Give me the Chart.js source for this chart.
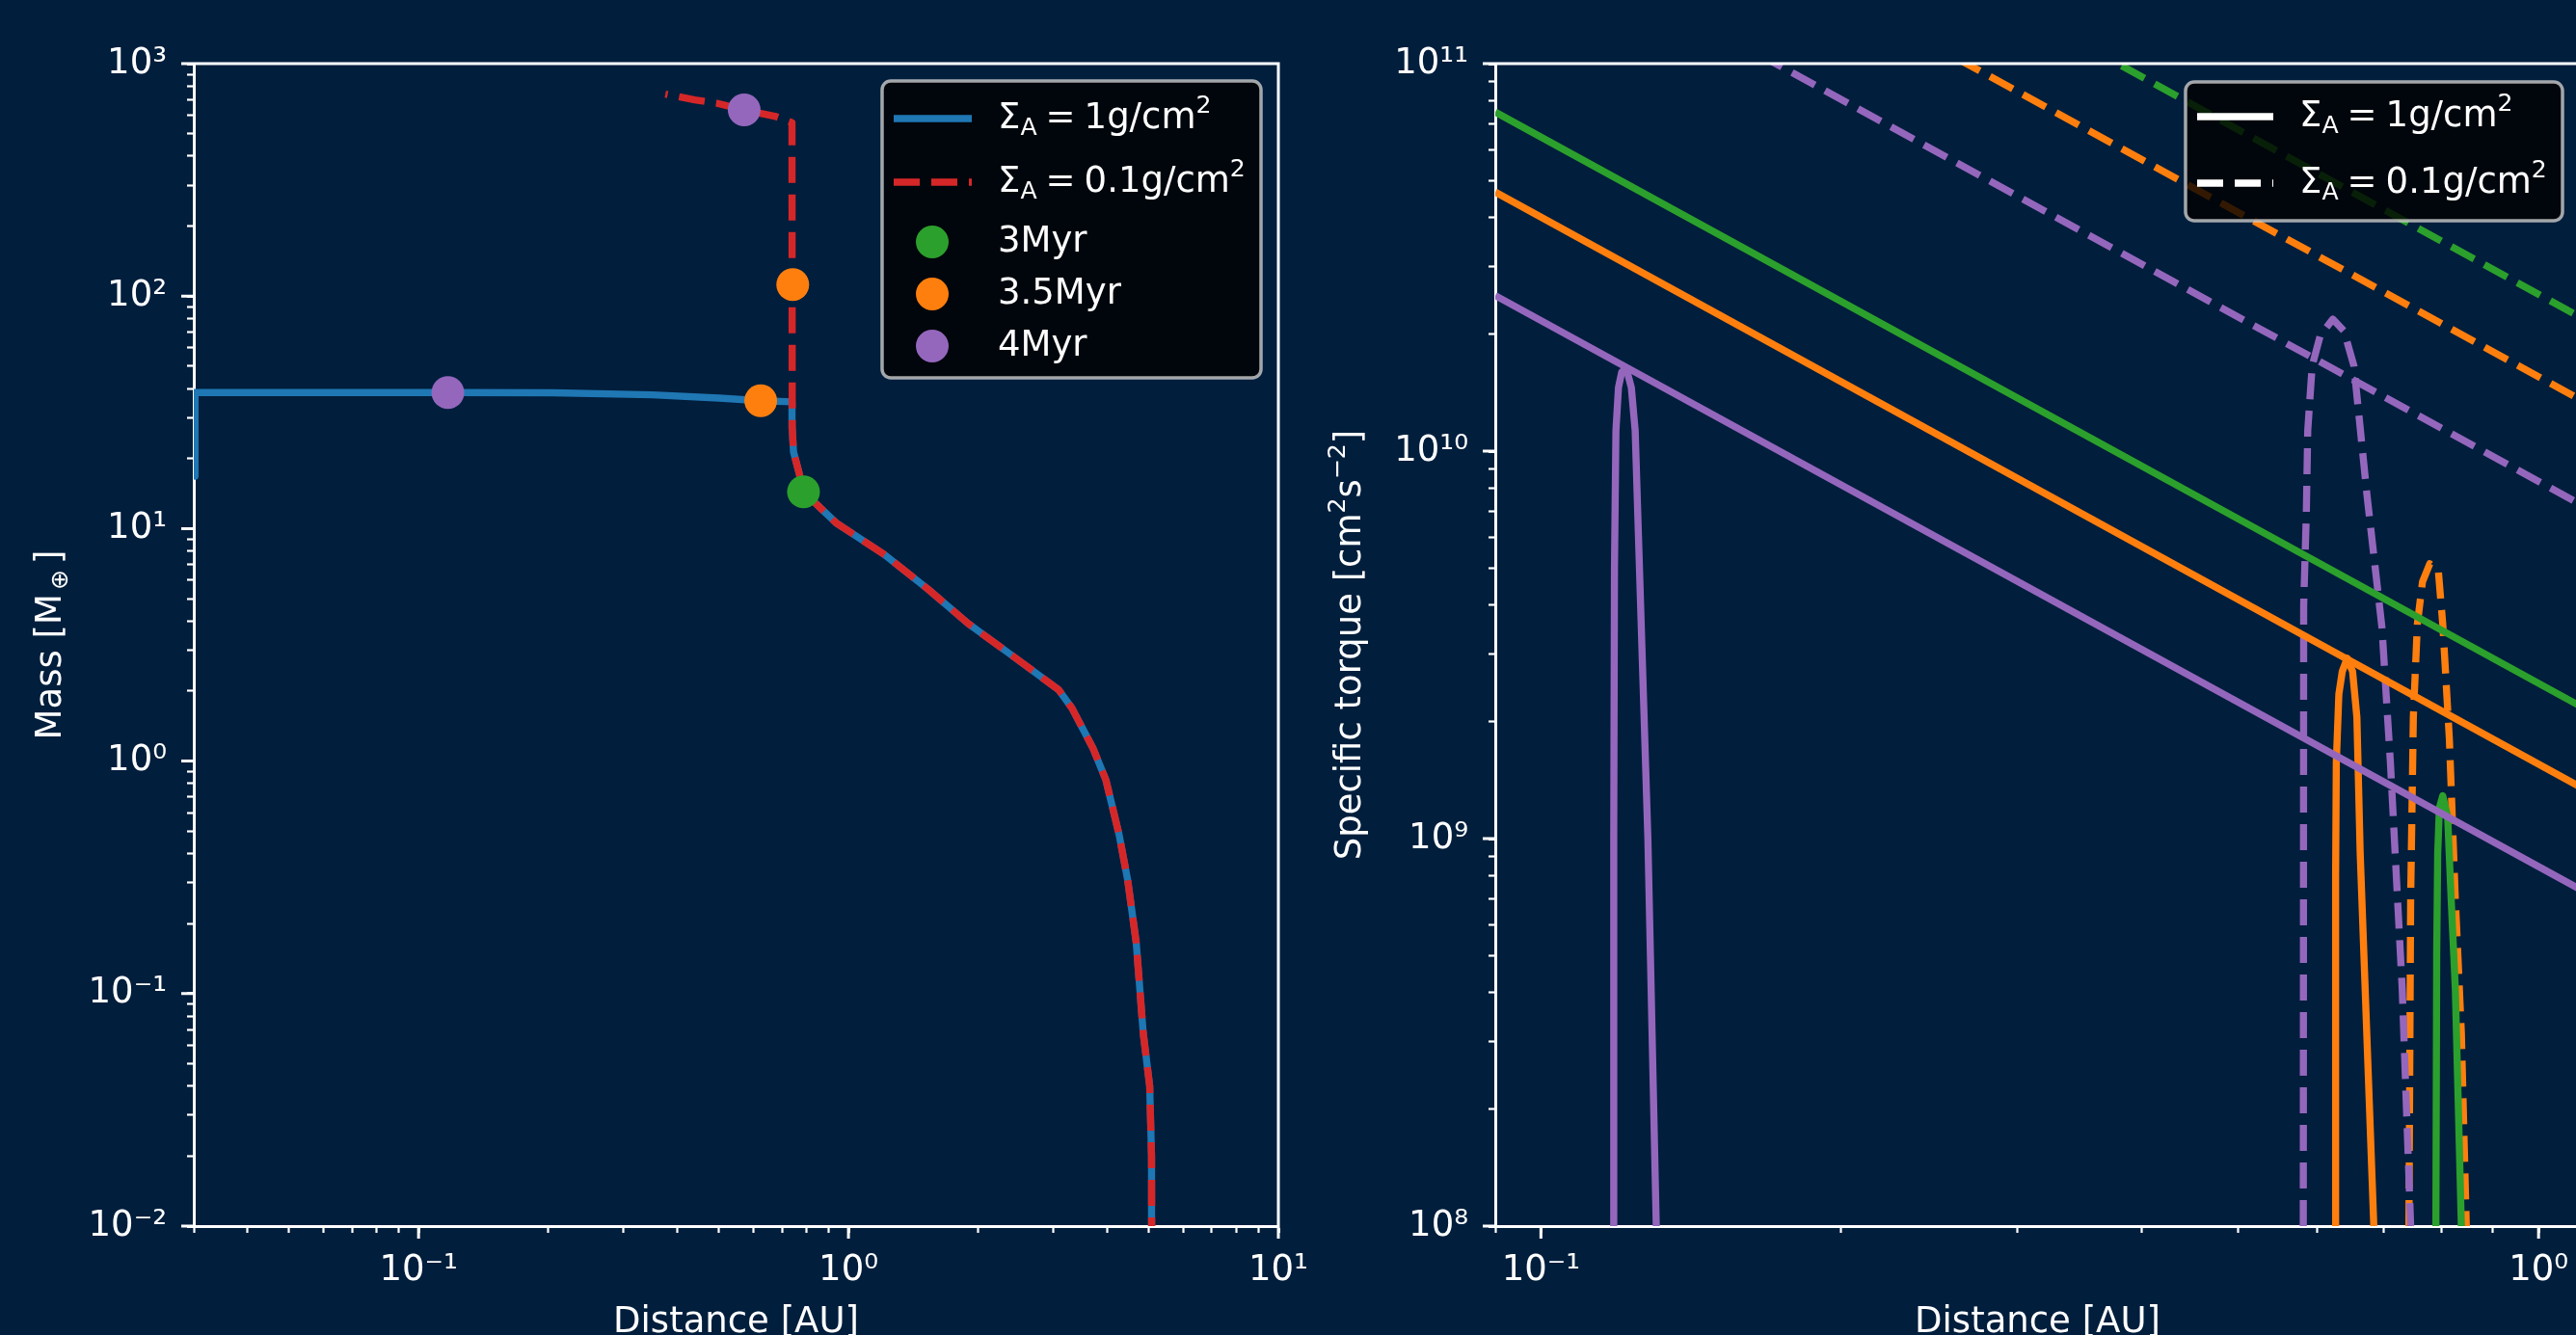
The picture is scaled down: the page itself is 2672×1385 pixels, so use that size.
<!DOCTYPE html>
<html>
<head>
<meta charset="utf-8">
<script src="https://cdn.jsdelivr.net/npm/chart.js@4.4.1/dist/chart.umd.min.js"></script>
<style>
html, body { margin:0; padding:0; width:2672px; height:1385px; overflow:hidden; background:#011e3c; }
canvas { position:absolute; top:0; }
#massChart { left:0; }
#torqueChart { left:1340px; }
</style>
</head>
<body>
<canvas id="massChart" width="1400" height="1385"></canvas>
<canvas id="torqueChart" width="1460" height="1385"></canvas>
<script>
// ===================== DATA =====================
// Left panel: planet track (distance [AU], mass [M_earth]) shared by both runs, from 5 AU inward
const sharedDist = [5.08, 5.07, 5.02, 4.85, 4.67, 4.46, 4.26, 3.97, 3.71, 3.31, 3.08, 2.45, 1.9, 1.535, 1.216, 0.935, 0.786, 0.768, 0.745, 0.740];
const sharedMass = [0.004, 0.02, 0.04, 0.0675, 0.166, 0.309, 0.484, 0.83, 1.13, 1.69, 2.03, 2.77, 3.9, 5.47, 7.7, 10.6, 14.4, 17.3, 21.4, 27];
// Sigma_A = 1 g/cm^2 continuation
const blueTailDist = [0.739, 0.625, 0.50, 0.35, 0.206, 0.117, 0.0302, 0.0302];
const blueTailMass = [35.1, 35.5, 36.4, 37.6, 38.4, 38.5, 38.5, 16.8];
// Sigma_A = 0.1 g/cm^2 continuation
const redTailDist = [0.739, 0.739, 0.674, 0.572, 0.493, 0.439, 0.375];
const redTailMass = [27, 558, 594, 632, 676, 698, 740];
// time markers
const myr3Dist = [0.786];        const myr3Mass = [14.4];
const myr35Dist = [0.625, 0.742]; const myr35Mass = [35.5, 112];
const myr4Dist = [0.117, 0.572];  const myr4Mass = [38.5, 632];

// Right panel: specific torque [cm^2 s^-2] vs distance [AU]
const lineDist = [0.09, 1.1];
const solid3Line = [7.5e10, 2.2e9];
const solid35Line = [4.66e10, 1.36e9];
const solid4Line = [2.52e10, 7.4e8];
const dashed3Line = [7.6e11, 2.22e10];
const dashed35Line = [4.63e11, 1.36e10];
const dashed4Line = [2.49e11, 7.3e9];

const solid4SpikeDist = [0.1182, 0.1183, 0.1185, 0.1189, 0.1196, 0.1205, 0.1213, 0.1222, 0.1232, 0.1243, 0.1265, 0.1280, 0.1305];
const solid4SpikeVal  = [1e8, 1e9, 5e9, 1.13e10, 1.46e10, 1.6e10, 1.62e10, 1.58e10, 1.46e10, 1.13e10, 2.65e9, 1e9, 1e8];
const solid35SpikeDist = [0.6258, 0.6260, 0.6270, 0.6307, 0.6357, 0.643, 0.651, 0.6575, 0.6625, 0.6837];
const solid35SpikeVal  = [1e8, 8e8, 1.57e9, 2.36e9, 2.7e9, 2.92e9, 2.7e9, 2.06e9, 9.2e8, 1e8];
const solid3SpikeDist = [0.789, 0.7905, 0.7923, 0.7954, 0.8016, 0.8107, 0.8173, 0.8252, 0.8368];
const solid3SpikeVal  = [1e8, 5e8, 9.1e8, 1.2e9, 1.29e9, 1.14e9, 7.0e8, 4.1e8, 1e8];
const dashed4SpikeDist = [0.581, 0.5815, 0.585, 0.587, 0.593, 0.6043, 0.622, 0.6383, 0.653, 0.673, 0.6967, 0.7104, 0.730, 0.7444];
const dashed4SpikeVal  = [1e8, 4e9, 6.8e9, 1.13e10, 1.66e10, 1.99e10, 2.19e10, 2.04e10, 1.66e10, 7.7e9, 3.5e9, 1.57e9, 4.1e8, 1e8];
const dashed35SpikeDist = [0.7414, 0.7444, 0.749, 0.756, 0.765, 0.778, 0.7937, 0.8016, 0.814, 0.8252, 0.8368, 0.8464];
const dashed35SpikeVal  = [1e8, 7e8, 2.06e9, 3.58e9, 4.6e9, 5.12e9, 4.87e9, 3.58e9, 1.8e9, 7e8, 3.15e8, 1e8];

// tick labels
const massMajors = [0.01, 0.1, 1, 10, 100, 1000];
const massLabels = ['10⁻²', '10⁻¹', '10⁰', '10¹', '10²', '10³'];
const distMajorsL = [0.1, 1, 10];
const distLabelsL = ['10⁻¹', '10⁰', '10¹'];
const torqueMajors = [1e8, 1e9, 1e10, 1e11];
const torqueLabels = ['10⁸', '10⁹', '10¹⁰', '10¹¹'];
const distMajorsR = [0.1, 1];
const distLabelsR = ['10⁻¹', '10⁰'];
const minorSteps = [2, 3, 4, 5, 6, 7, 8, 9];

// ===================== STYLE / HELPERS =====================
const COL = { blue:'#1f77b4', red:'#d62728', green:'#2ca02c', orange:'#ff7f0e', purple:'#9467bd' };
const FONT = 'DejaVu Sans';
const FS = 37;
const LW = 7.4;
const DASH = [27, 12];
const SS = 0.68;

const pts = (xs, ys) => xs.map((x, i) => ({ x: x, y: ys[i] }));

function buildLogTicks(scale) {
  const min = scale.min, max = scale.max, out = [];
  const e0 = Math.floor(Math.log10(min)), e1 = Math.ceil(Math.log10(max));
  for (let e = e0; e <= e1; e++) {
    const base = Math.pow(10, e);
    [1].concat(minorSteps).forEach(k => {
      const v = parseFloat((k * base).toPrecision(6));
      if (v >= min * 0.9999 && v <= max * 1.0001) out.push({ value: v, major: k === 1 });
    });
  }
  scale.ticks = out;
}
function labelFor(v, majors, labels) {
  for (let i = 0; i < majors.length; i++) if (Math.abs(v / majors[i] - 1) < 1e-6) return labels[i];
  return '';
}
function makeAxis(cfg) {
  return {
    type: 'logarithmic', position: cfg.position, min: cfg.min, max: cfg.max,
    afterBuildTicks: s => buildLogTicks(s),
    afterFit: s => { if (cfg.position === 'left') s.width = cfg.size; else s.height = cfg.size; },
    grid: { display: true, drawOnChartArea: false, drawTicks: true, tickLength: 7, tickColor: '#ffffff',
            tickWidth: c => (c.tick && c.tick.major) ? 3 : 2.2 },
    border: { display: true, color: '#ffffff', width: 3 },
    ticks: { autoSkip: false, maxRotation: 0, minRotation: 0, padding: cfg.pad, color: '#ffffff',
             font: { family: FONT, size: FS }, callback: (v) => labelFor(v, cfg.majors, cfg.labels) },
    title: cfg.title ? { display: true, text: cfg.title, color: '#ffffff',
             font: { family: FONT, size: FS, lineHeight: 1 }, padding: { top: 0, bottom: -6 } } : { display: false }
  };
}

function setFont(ctx, s) { ctx.font = s + 'px "' + FONT + '"'; }
function richWidth(ctx, parts, size) {
  let w = 0;
  parts.forEach(p => { setFont(ctx, (p.sub || p.sup) ? size * SS : size); w += (p.dx || 0) + ctx.measureText(p.t).width; });
  return w;
}
function drawRich(ctx, parts, x, y, size, align) {
  const w = richWidth(ctx, parts, size);
  let cx = align === 'center' ? x - w / 2 : x;
  ctx.textAlign = 'left'; ctx.textBaseline = 'alphabetic';
  parts.forEach(p => {
    const s = (p.sub || p.sup) ? size * SS : size;
    setFont(ctx, s);
    cx += (p.dx || 0);
    const dy = p.sub ? size * 0.18 : (p.sup ? -size * 0.42 : 0);
    ctx.fillText(p.t, cx, y + dy);
    cx += ctx.measureText(p.t).width;
  });
}
function legendFrame(ctx, x, y, w, h) {
  const r = 9;
  ctx.beginPath();
  ctx.moveTo(x + r, y); ctx.lineTo(x + w - r, y); ctx.arcTo(x + w, y, x + w, y + r, r);
  ctx.lineTo(x + w, y + h - r); ctx.arcTo(x + w, y + h, x + w - r, y + h, r);
  ctx.lineTo(x + r, y + h); ctx.arcTo(x, y + h, x, y + h - r, r);
  ctx.lineTo(x, y + r); ctx.arcTo(x, y, x + r, y, r); ctx.closePath();
  ctx.fillStyle = 'rgba(0,0,0,0.8)'; ctx.fill();
  ctx.strokeStyle = 'rgba(204,204,204,0.8)'; ctx.lineWidth = 3.5; ctx.stroke();
}
function legendLine(ctx, x0, x1, y, color, dashed) {
  ctx.save(); ctx.strokeStyle = color; ctx.lineWidth = LW; ctx.lineCap = 'butt';
  ctx.setLineDash(dashed ? DASH : []);
  ctx.beginPath(); ctx.moveTo(x0, y); ctx.lineTo(x1, y); ctx.stroke(); ctx.restore();
}
const sigma1 = [{ t:'Σ' }, { t:'A', sub:true }, { t:'=', dx:9 }, { t:'1g/cm', dx:9 }, { t:'2', sup:true }];
const sigma01 = [{ t:'Σ' }, { t:'A', sub:true }, { t:'=', dx:9 }, { t:'0.1g/cm', dx:9 }, { t:'2', sup:true }];

function framePlugin(extra) {
  return {
    id: 'frameAndText',
    afterDraw(chart) {
      const ctx = chart.ctx, a = chart.chartArea;
      ctx.save();
      ctx.strokeStyle = '#ffffff'; ctx.lineWidth = 3; ctx.lineCap = 'butt';
      ctx.beginPath();
      ctx.moveTo(a.left - 1.5, a.top); ctx.lineTo(a.right + 1.5, a.top);
      ctx.moveTo(a.right, a.top); ctx.lineTo(a.right, a.bottom + 1.5);
      const xs = chart.scales.x, ys = chart.scales.y;
      xs.ticks.forEach(t => { if (t.major) { const p = xs.getPixelForValue(t.value); ctx.moveTo(p, a.bottom); ctx.lineTo(p, a.bottom + 13); } });
      ys.ticks.forEach(t => { if (t.major) { const p = ys.getPixelForValue(t.value); ctx.moveTo(a.left, p); ctx.lineTo(a.left - 13, p); } });
      ctx.stroke();
      ctx.fillStyle = '#ffffff';
      extra(chart, ctx, a);
      ctx.restore();
    }
  };
}

// ===================== LEFT CHART =====================
const lineBase = { showLine: true, pointRadius: 0, borderWidth: LW, tension: 0, clip: 0,
                   borderJoinStyle: 'round', borderCapStyle: 'butt' };

new Chart(document.getElementById('massChart'), {
  type: 'scatter',
  data: { datasets: [
    { label: '3Myr', data: pts(myr3Dist, myr3Mass), pointRadius: 17, pointBorderWidth: 0, backgroundColor: COL.green, borderColor: COL.green, order: 0, clip: 0 },
    { label: '3.5Myr', data: pts(myr35Dist, myr35Mass), pointRadius: 17, pointBorderWidth: 0, backgroundColor: COL.orange, borderColor: COL.orange, order: 0, clip: 0 },
    { label: '4Myr', data: pts(myr4Dist, myr4Mass), pointRadius: 17, pointBorderWidth: 0, backgroundColor: COL.purple, borderColor: COL.purple, order: 0, clip: 0 },
    Object.assign({ label: 'Sigma_A = 0.1g/cm2', data: pts(sharedDist.concat(redTailDist.slice(1)), sharedMass.concat(redTailMass.slice(1))),
                    borderColor: COL.red, borderDash: DASH, order: 1 }, lineBase),
    Object.assign({ label: 'Sigma_A = 1g/cm2', data: pts(sharedDist.concat(blueTailDist), sharedMass.concat(blueTailMass)),
                    borderColor: COL.blue, order: 2 }, lineBase)
  ]},
  options: {
    responsive: false, animation: false, devicePixelRatio: 1, events: [],
    layout: { padding: { top: 66, right: 74, bottom: 0, left: 0 } },
    plugins: { legend: { display: false }, tooltip: { enabled: false } },
    scales: {
      x: makeAxis({ position: 'bottom', min: 0.03, max: 10, size: 113, pad: 17, majors: distMajorsL, labels: distLabelsL, title: 'Distance [AU]' }),
      y: makeAxis({ position: 'left', min: 0.01, max: 1000, size: 201, pad: 21, majors: massMajors, labels: massLabels })
    }
  },
  plugins: [framePlugin((chart, ctx, a) => {
    // y-axis title
    ctx.save(); ctx.translate(63, (a.top + a.bottom) / 2); ctx.rotate(-Math.PI / 2);
    drawRich(ctx, [{ t:'Mass [M' }, { t:'⊕', sub:true, dx:4 }, { t:']', dx:6 }], 0, 0, FS, 'center');
    ctx.restore();
    // legend
    const w = 393, h = 308, x = a.right - 18 - w, y = a.top + 18;
    legendFrame(ctx, x, y, w, h);
    const hx0 = x + 12, hx1 = x + 93, tx = x + 120, mx = x + 52;
    const rows = [39, 105, 167, 221, 275].map(r => y + r);
    legendLine(ctx, hx0, hx1, rows[0], COL.blue, false);
    legendLine(ctx, hx0, hx1, rows[1], COL.red, true);
    [COL.green, COL.orange, COL.purple].forEach((c, i) => {
      ctx.beginPath(); ctx.arc(mx, rows[2 + i], 17, 0, Math.PI * 2); ctx.fillStyle = c; ctx.fill();
    });
    ctx.fillStyle = '#ffffff';
    drawRich(ctx, sigma1, tx, rows[0] + 10, FS, 'left');
    drawRich(ctx, sigma01, tx, rows[1] + 10, FS, 'left');
    ['3Myr', '3.5Myr', '4Myr'].forEach((s, i) => drawRich(ctx, [{ t: s }], tx, rows[2 + i] + 10, FS, 'left'));
  })]
});

// ===================== RIGHT CHART =====================
function torqueSet(label, xs, ys, color, dashed) {
  return Object.assign({ label: label, data: pts(xs, ys), borderColor: color, borderDash: dashed ? DASH : [] }, lineBase);
}
new Chart(document.getElementById('torqueChart'), {
  type: 'scatter',
  data: { datasets: [
    torqueSet('3Myr 1', lineDist, solid3Line, COL.green, false),
    torqueSet('3.5Myr 1', lineDist, solid35Line, COL.orange, false),
    torqueSet('4Myr 1', lineDist, solid4Line, COL.purple, false),
    torqueSet('3Myr 0.1', lineDist, dashed3Line, COL.green, true),
    torqueSet('3.5Myr 0.1', lineDist, dashed35Line, COL.orange, true),
    torqueSet('4Myr 0.1', lineDist, dashed4Line, COL.purple, true),
    torqueSet('4Myr 1 peak', solid4SpikeDist, solid4SpikeVal, COL.purple, false),
    torqueSet('3.5Myr 1 peak', solid35SpikeDist, solid35SpikeVal, COL.orange, false),
    torqueSet('3Myr 1 peak', solid3SpikeDist, solid3SpikeVal, COL.green, false),
    torqueSet('4Myr 0.1 peak', dashed4SpikeDist, dashed4SpikeVal, COL.purple, true),
    torqueSet('3.5Myr 0.1 peak', dashed35SpikeDist, dashed35SpikeVal, COL.orange, true)
  ]},
  options: {
    responsive: false, animation: false, devicePixelRatio: 1, events: [],
    layout: { padding: { top: 66, right: 124, bottom: 0, left: 0 } },
    plugins: { legend: { display: false }, tooltip: { enabled: false } },
    scales: {
      x: makeAxis({ position: 'bottom', min: 0.09, max: 1.1, size: 113, pad: 17, majors: distMajorsR, labels: distLabelsR, title: 'Distance [AU]' }),
      y: makeAxis({ position: 'left', min: 1e8, max: 1e11, size: 211, pad: 21, majors: torqueMajors, labels: torqueLabels })
    }
  },
  plugins: [framePlugin((chart, ctx, a) => {
    ctx.save(); ctx.translate(71, (a.top + a.bottom) / 2); ctx.rotate(-Math.PI / 2);
    drawRich(ctx, [{ t:'Specific torque [cm' }, { t:'2', sup:true }, { t:'s' }, { t:'−2', sup:true }, { t:']' }], 0, 0, FS, 'center');
    ctx.restore();
    const w = 391, h = 144, x = a.right - 18 - w, y = a.top + 19;
    legendFrame(ctx, x, y, w, h);
    const hx0 = x + 12, hx1 = x + 91, tx = x + 118;
    legendLine(ctx, hx0, hx1, y + 36, '#ffffff', false);
    legendLine(ctx, hx0, hx1, y + 105, '#ffffff', true);
    ctx.fillStyle = '#ffffff';
    drawRich(ctx, sigma1, tx, y + 46, FS, 'left');
    drawRich(ctx, sigma01, tx, y + 115, FS, 'left');
  })]
});
</script>
</body>
</html>
